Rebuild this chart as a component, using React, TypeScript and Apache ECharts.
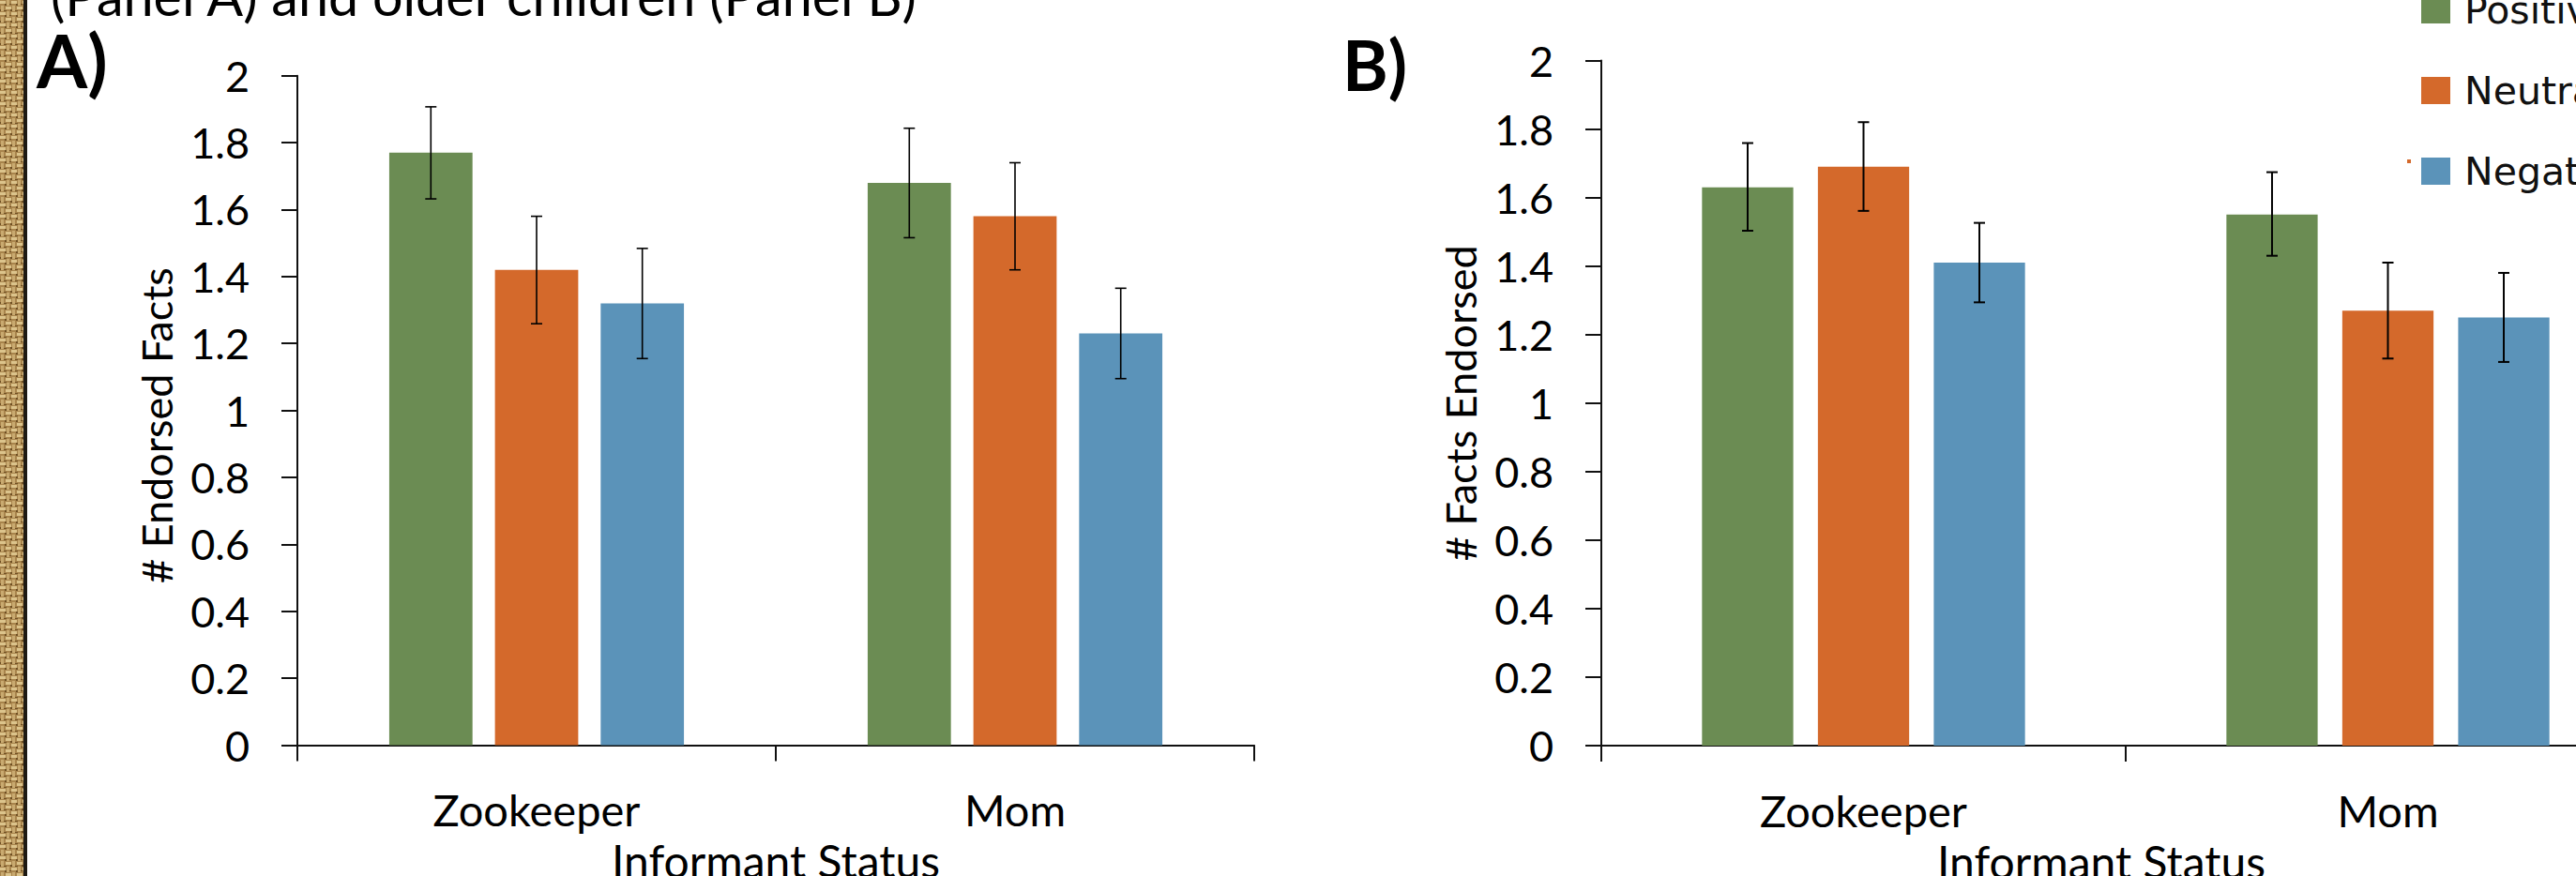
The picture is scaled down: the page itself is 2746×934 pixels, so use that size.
import React, { useEffect, useRef } from 'react';
import * as echarts from 'echarts';

const categories = ['Zookeeper', 'Mom'];
const seriesNames = ['Positive', 'Neutral', 'Negative'];
const seriesColors = ['#6b8c53', '#d4692b', '#5b93b9'];
const yTickMin = 0;
const yTickMax = 2;
const yTickStep = 0.2;

// Panel A (younger children)
const panelAPositive = [1.77, 1.68];
const panelANeutral = [1.42, 1.58];
const panelANegative = [1.32, 1.23];
const panelAPositiveErr = [[1.632, 1.907], [1.516, 1.843]];
const panelANeutralErr = [[1.259, 1.58], [1.42, 1.74]];
const panelANegativeErr = [[1.155, 1.484], [1.095, 1.365]];

// Panel B (older children)
const panelBPositive = [1.63, 1.55];
const panelBNeutral = [1.69, 1.27];
const panelBNegative = [1.41, 1.25];
const panelBPositiveErr = [[1.503, 1.759], [1.43, 1.674]];
const panelBNeutralErr = [[1.561, 1.82], [1.13, 1.41]];
const panelBNegativeErr = [[1.294, 1.526], [1.12, 1.38]];

const headerText = '(Panel A) and older children (Panel B)';
const panelATitle = 'A)';
const panelBTitle = 'B)';
const panelAYName = '# Endorsed Facts';
const panelBYName = '# Facts Endorsed';
const xName = 'Informant Status';

const OFF = 60; // chart is shifted up by this amount
const BAR_FRAC = 0.174;
const GAP_FRAC = 0.27;

function makeBurlap(): string {
  const c = document.createElement('canvas');
  c.width = 12;
  c.height = 12;
  const g = c.getContext('2d');
  if (!g) return '';
  g.fillStyle = '#a8844c';
  g.fillRect(0, 0, 12, 12);
  g.fillStyle = '#dcc48c';
  g.fillRect(0, 1, 6, 3);
  g.fillRect(6, 7, 6, 3);
  g.fillStyle = '#c9aa70';
  g.fillRect(7, 0, 3, 6);
  g.fillRect(1, 6, 3, 6);
  g.fillStyle = '#6e4f24';
  g.fillRect(5, 4, 2, 2);
  g.fillRect(11, 10, 1, 2);
  g.fillRect(0, 10, 1, 2);
  g.fillRect(4, 11, 3, 1);
  g.fillRect(10, 4, 2, 1);
  return c.toDataURL();
}

export default function App() {
  const ref = useRef<HTMLDivElement>(null);

  useEffect(() => {
    if (!ref.current) return;
    const chart = echarts.init(ref.current, undefined, { renderer: 'svg' });

    const panelA = [panelAPositive, panelANeutral, panelANegative];
    const panelB = [panelBPositive, panelBNeutral, panelBNegative];
    const errA = [panelAPositiveErr, panelANeutralErr, panelANegativeErr];
    const errB = [panelBPositiveErr, panelBNeutralErr, panelBNegativeErr];

    const makeErr = (s: number, lw: number) => (params: any, api: any) => {
      const ci = api.value(0);
      const lo = api.coord([ci, api.value(1)]);
      const hi = api.coord([ci, api.value(2)]);
      const band = api.size([1, 0])[0];
      const bw = band * BAR_FRAC;
      const x = lo[0] + (s - 1) * bw * (1 + GAP_FRAC);
      const cap = 6;
      const st = { stroke: '#000', lineWidth: lw };
      return {
        type: 'group',
        children: [
          { type: 'line', shape: { x1: x, y1: lo[1], x2: x, y2: hi[1] }, style: st },
          { type: 'line', shape: { x1: x - cap, y1: hi[1], x2: x + cap, y2: hi[1] }, style: st },
          { type: 'line', shape: { x1: x - cap, y1: lo[1], x2: x + cap, y2: lo[1] }, style: st },
        ],
      };
    };

    const axisLineStyle = { color: '#111', width: 2 };
    const makeX = (gi: number, padRight: number) => ({
      type: 'category',
      gridIndex: gi,
      data: categories,
      boundaryGap: true,
      axisLine: { show: true, lineStyle: axisLineStyle },
      axisTick: { show: true, length: 17, inside: false, lineStyle: { color: '#111', width: 2 } },
      axisLabel: { margin: 45, fontFamily: 'Lato', fontSize: 47, color: '#000' },
      name: xName,
      nameLocation: 'middle',
      nameGap: 99,
      nameTextStyle: { fontFamily: 'Lato', fontSize: 48, color: '#000', padding: [0, padRight, 0, 0] },
      splitLine: { show: false },
    });
    const makeY = (gi: number, name: string, padRight: number) => ({
      type: 'value',
      gridIndex: gi,
      min: yTickMin,
      max: yTickMax,
      interval: yTickStep,
      axisLine: { show: true, lineStyle: axisLineStyle },
      axisTick: { show: true, length: 17, inside: false, lineStyle: { color: '#111', width: 2 } },
      axisLabel: { margin: 51, fontFamily: 'Lato', fontSize: 45, color: '#000' },
      splitLine: { show: false },
      name,
      nameLocation: 'middle',
      nameGap: 128,
      nameTextStyle: { fontFamily: 'Lato', fontSize: 45, color: '#000', padding: [0, padRight, 0, 0] },
    });

    const series: any[] = [];
    [panelA, panelB].forEach((panel, pi) => {
      panel.forEach((vals, s) => {
        series.push({
          type: 'bar',
          name: seriesNames[s],
          xAxisIndex: pi,
          yAxisIndex: pi,
          data: vals,
          barWidth: `${BAR_FRAC * 100}%`,
          barGap: `${GAP_FRAC * 100}%`,
          itemStyle: { color: seriesColors[s] },
          z: 2,
        });
      });
    });
    [errA, errB].forEach((panel, pi) => {
      panel.forEach((errs, s) => {
        series.push({
          type: 'custom',
          name: `err${pi}${s}`,
          xAxisIndex: pi,
          yAxisIndex: pi,
          renderItem: makeErr(s, pi === 0 ? 1.6 : 2),
          encode: { x: 0, y: [1, 2] },
          data: errs.map((e, ci) => [ci, e[0], e[1]]),
          clip: false,
          z: 5,
        });
      });
    });

    const burlap = makeBurlap();

    chart.setOption({
      animation: false,
      backgroundColor: '#ffffff',
      grid: [
        { left: 317, top: 80.7 + OFF, width: 1020, height: 713.8 },
        { left: 1707, top: 64.5 + OFF, width: 1118, height: 730.5 },
      ],
      xAxis: [makeX(0, 0), makeX(1, 52)],
      yAxis: [makeY(0, panelAYName, 32), makeY(1, panelBYName, 0)],
      legend: {
        data: seriesNames,
        orient: 'vertical',
        left: 2576,
        top: -15 + OFF,
        itemWidth: 31,
        itemHeight: 29,
        itemGap: 45,
        icon: 'rect',
        textStyle: {
          fontFamily: 'DejaVu Sans',
          fontSize: 41,
          color: '#111',
          lineHeight: 29,
          padding: [0, 0, 0, 10],
        },
      },
      graphic: [
        {
          type: 'rect',
          shape: { x: 0, y: 0, width: 25, height: 1100 },
          style: { fill: { image: burlap, repeat: 'repeat' } as any },
          silent: true,
        },
        {
          type: 'rect',
          shape: { x: 25, y: 0, width: 4, height: 1100 },
          style: { fill: '#1e1a14' },
          silent: true,
        },
        {
          type: 'text',
          style: {
            text: headerText,
            x: 54,
            y: 54,
            font: '57.5px Lato',
            fill: '#000',
            verticalAlign: 'middle',
          },
        },
        {
          type: 'text',
          style: {
            text: panelATitle,
            x: 39,
            y: 64 + OFF,
            font: 'bold 78px Lato',
            fill: '#000',
            verticalAlign: 'middle',
          },
        },
        {
          type: 'text',
          style: {
            text: panelBTitle,
            x: 1431,
            y: 68 + OFF,
            font: 'bold 74px Lato',
            fill: '#000',
            verticalAlign: 'middle',
          },
        },
        {
          type: 'rect',
          shape: { x: 2566, y: 170 + OFF, width: 4, height: 4 },
          style: { fill: '#d4692b' },
          silent: true,
        },
      ],
      series,
    });

    return () => chart.dispose();
  }, []);

  return (
    <div
      style={{
        position: 'fixed',
        left: 0,
        top: 0,
        width: 2746,
        height: 934,
        overflow: 'hidden',
        background: '#fff',
      }}
    >
      <div
        ref={ref}
        style={{ position: 'absolute', left: 0, top: -OFF, width: 2950, height: 1100 }}
      />
    </div>
  );
}
